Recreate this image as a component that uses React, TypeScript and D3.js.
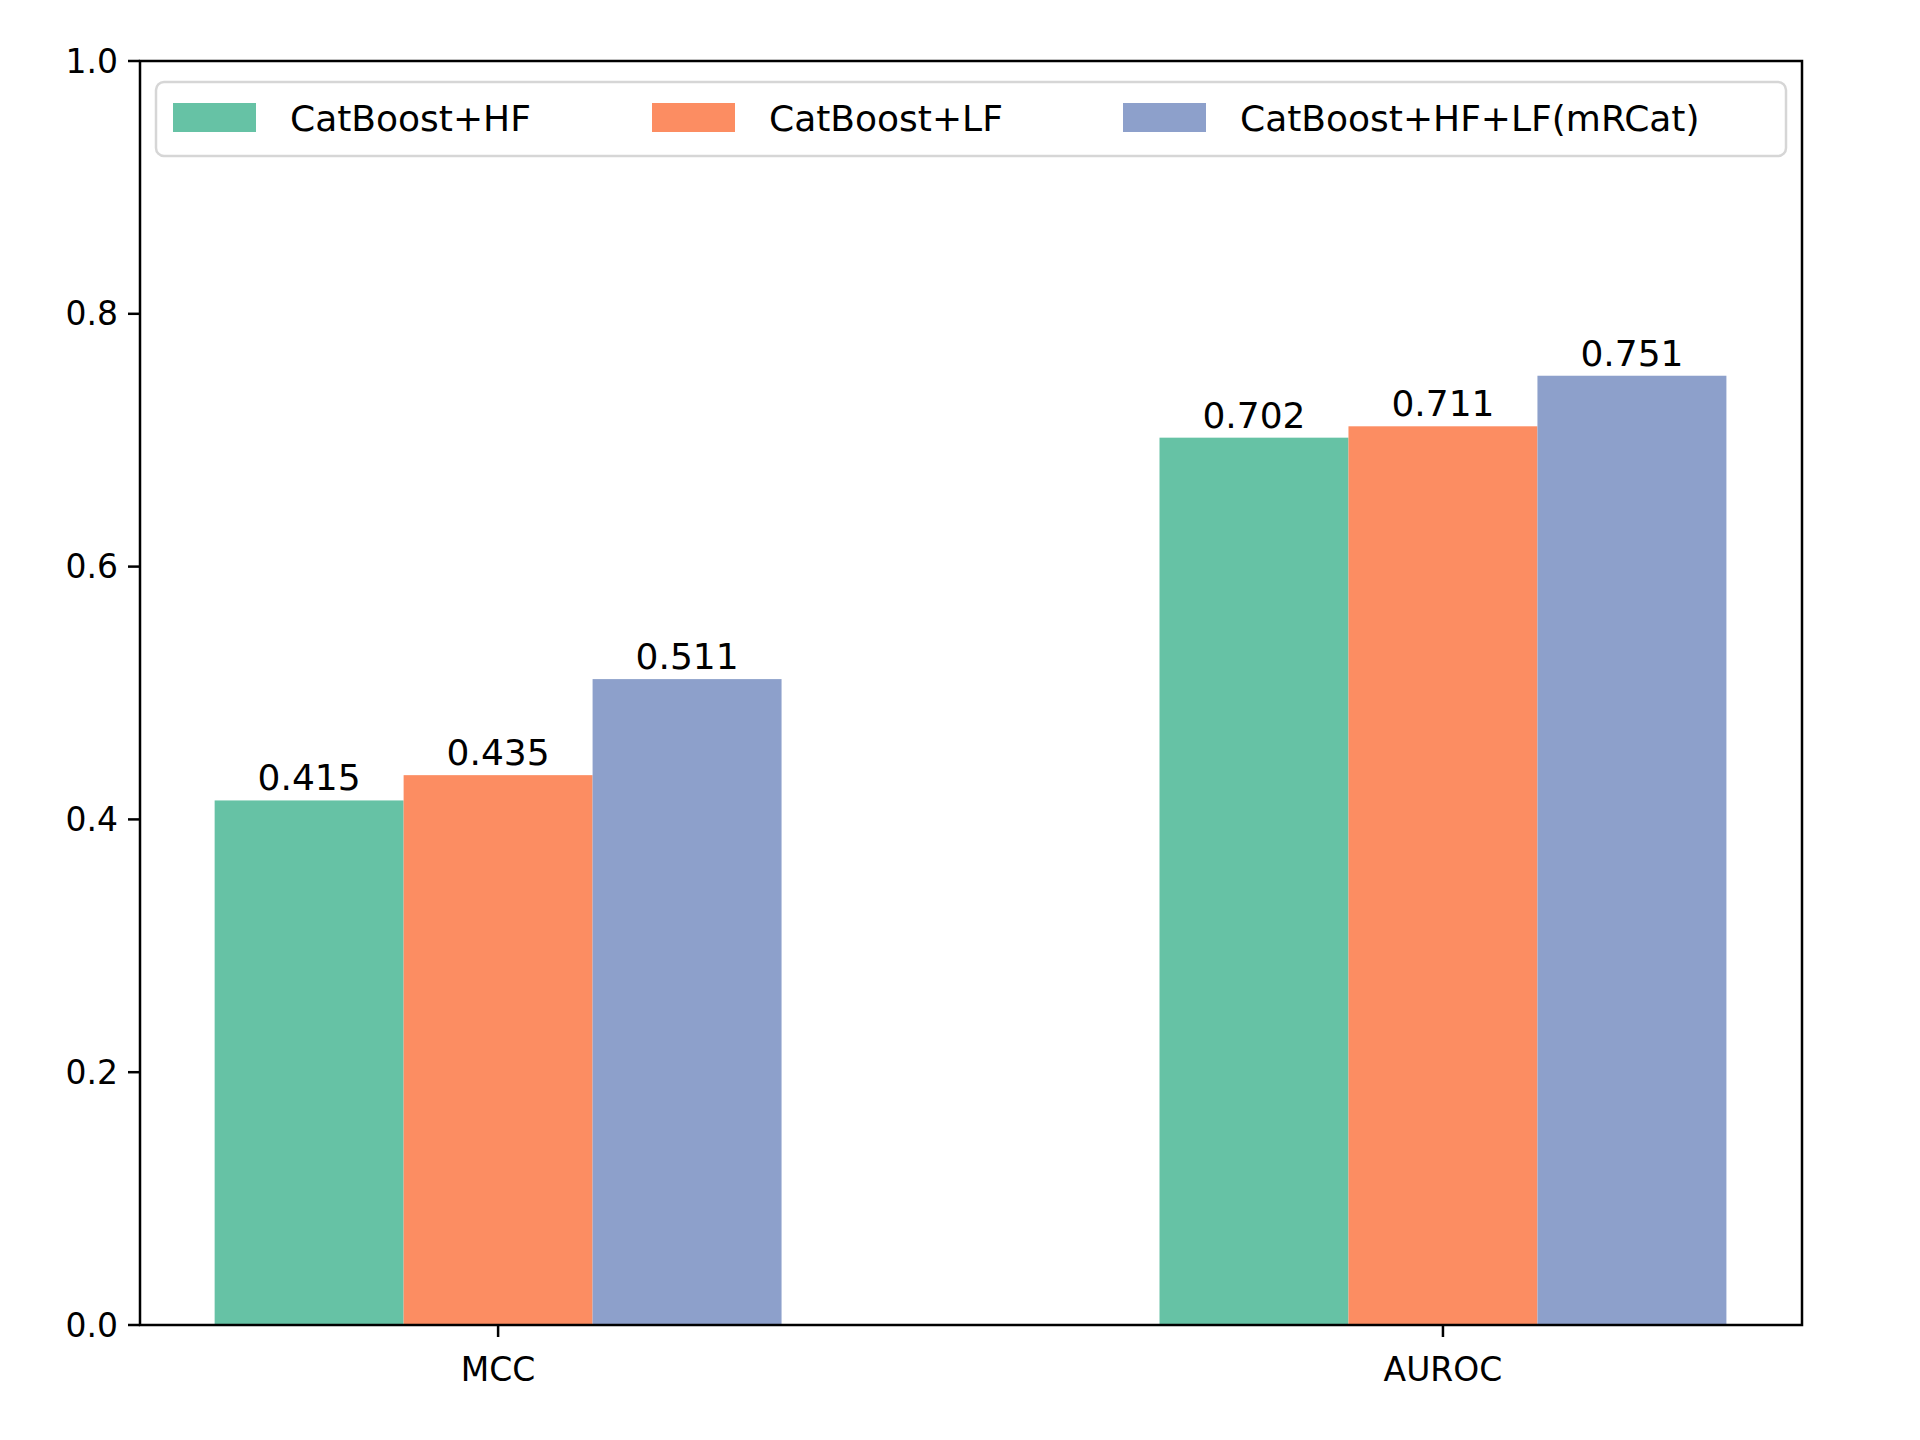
import * as d3 from "d3";
import React from "react";

const categories = ["MCC", "AUROC"];
const seriesNames = ["CatBoost+HF", "CatBoost+LF", "CatBoost+HF+LF(mRCat)"];
const seriesValues = [
  [0.415, 0.702],
  [0.435, 0.711],
  [0.511, 0.751],
];
const colors = ["#66c2a5", "#fc8d62", "#8da0cb"];
const yTicks = [0, 0.2, 0.4, 0.6, 0.8, 1.0];

const W = 1920;
const H = 1440;
const m = { left: 140, right: 1802, top: 61, bottom: 1325 };
const font = "DejaVu Sans, sans-serif";

export default function App() {
  const x = d3.scaleLinear().domain([-0.379, 1.38]).range([m.left, m.right]);
  const y = d3.scaleLinear().domain([0, 1]).range([m.bottom, m.top]);
  const bw = 0.2;
  const legendX = [173, 652, 1123];

  return (
    <svg width={W} height={H} style={{ display: "block", margin: -8 }}>
      <rect width={W} height={H} fill="#fff" />
      {seriesValues.map((vals, s) =>
        vals.map((v, i) => {
          const cx = i + (s - 1) * bw;
          const x0 = x(cx - bw / 2);
          const x1 = x(cx + bw / 2);
          return (
            <g key={`${s}-${i}`}>
              <rect x={x0} y={y(v)} width={x1 - x0} height={y(0) - y(v)} fill={colors[s]} />
              <text x={(x0 + x1) / 2} y={y(v) - 10} textAnchor="middle" fontFamily={font} fontSize={36}>
                {v.toFixed(3)}
              </text>
            </g>
          );
        })
      )}
      <rect x={m.left} y={m.top} width={m.right - m.left} height={m.bottom - m.top} fill="none" stroke="#000" strokeWidth={2.5} />
      {yTicks.map((t) => (
        <g key={t}>
          <line x1={m.left - 12} x2={m.left} y1={y(t)} y2={y(t)} stroke="#000" strokeWidth={2.5} />
          <text x={m.left - 22} y={y(t)} dy="0.35em" textAnchor="end" fontFamily={font} fontSize={33}>
            {t.toFixed(1)}
          </text>
        </g>
      ))}
      {categories.map((c, i) => (
        <g key={c}>
          <line x1={x(i)} x2={x(i)} y1={m.bottom} y2={m.bottom + 12} stroke="#000" strokeWidth={2.5} />
          <text x={x(i)} y={m.bottom + 56} textAnchor="middle" fontFamily={font} fontSize={33}>
            {c}
          </text>
        </g>
      ))}
      <rect x={156} y={82} width={1630} height={74} rx={8} fill="#fff" fillOpacity={0.8} stroke="#d6d6d6" strokeWidth={2.5} />
      {seriesNames.map((n, s) => (
        <g key={n}>
          <rect x={legendX[s]} y={103} width={83} height={29} fill={colors[s]} />
          <text x={legendX[s] + 117} y={118} dy="0.35em" fontFamily={font} fontSize={36}>
            {n}
          </text>
        </g>
      ))}
    </svg>
  );
}
